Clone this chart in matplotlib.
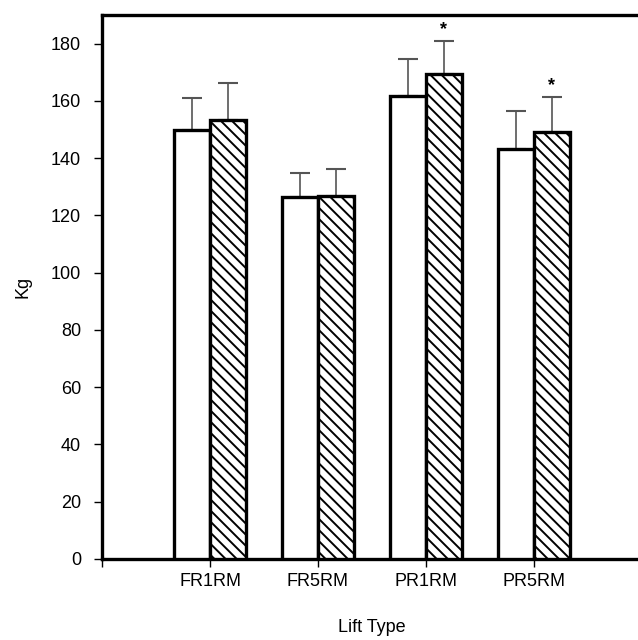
import matplotlib
matplotlib.use("Agg")
import matplotlib.pyplot as plt
import numpy as np

plt.rcParams['font.family'] = ['Liberation Sans', 'DejaVu Sans']
plt.rcParams['hatch.linewidth'] = 1.4

categories = ["FR1RM", "FR5RM", "PR1RM", "PR5RM"]
pre_vals = [150.0, 126.5, 161.8, 143.3]
pre_err = [10.9, 8.3, 12.8, 13.2]
post_vals = [153.4, 126.8, 169.3, 149.2]
post_err = [12.7, 9.3, 11.6, 12.0]
post_sig = [False, False, True, True]

fig = plt.figure(figsize=(6.38, 6.40), dpi=100)
ax = fig.add_axes([0.16, 0.1266, 0.846, 0.85])

x = np.arange(1, len(categories) + 1)
w = 1 / 3
lw = 2.4
ax.bar(x - w / 2, pre_vals, width=w, color='white', edgecolor='black', linewidth=lw, zorder=3)
ax.bar(x + w / 2, post_vals, width=w, color='white', edgecolor='black', linewidth=lw,
       hatch='\\\\\\', zorder=3)

for xi, v, e in zip(x - w / 2, pre_vals, pre_err):
    ax.errorbar([xi], [v + e / 2], yerr=[[e / 2], [e / 2]], fmt='none', ecolor='#555555',
                elinewidth=1.2, capsize=7, capthick=1.5, zorder=2)
for xi, v, e, s in zip(x + w / 2, post_vals, post_err, post_sig):
    ax.errorbar([xi], [v + e / 2], yerr=[[e / 2], [e / 2]], fmt='none', ecolor='#555555',
                elinewidth=1.2, capsize=7, capthick=1.5, zorder=2)
    if s:
        ax.text(xi, v + e + 1.2, '*', ha='center', va='bottom', fontsize=13, fontweight='bold')

ax.set_xlim(0, 5)
ax.set_ylim(0, 190)
ax.set_yticks(np.arange(0, 181, 20))
ax.set_xticks([0, 1, 2, 3, 4])
ax.set_xticklabels([''] + categories)
ax.tick_params(axis='y', direction='out', length=6, width=1, labelsize=13, pad=9)
ax.tick_params(axis='x', direction='out', length=6, width=1, labelsize=13, pad=4)
for side in ['left', 'bottom', 'top', 'right']:
    ax.spines[side].set_linewidth(2.4)
ax.set_ylabel('Kg', fontsize=13, labelpad=14)
ax.set_xlabel('Lift Type', fontsize=13, labelpad=21)

fig.savefig('out.png', dpi=100)
